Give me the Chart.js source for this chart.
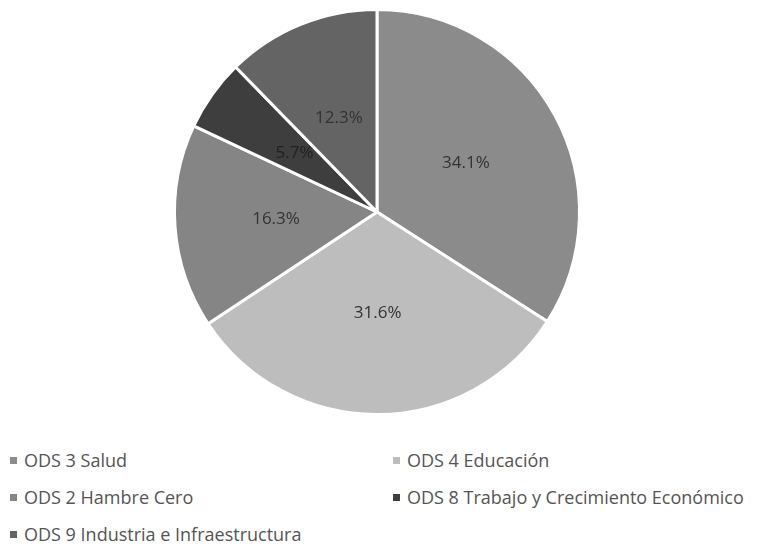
<!DOCTYPE html>
<html>
<head>
<meta charset="utf-8">
<script src="https://cdn.jsdelivr.net/npm/chart.js@4"></script>
<style>
  body { margin: 0; background: #fff; width: 758px; height: 547px; overflow: hidden; }
  #wrap { position: absolute; left: 0; top: 0; width: 758px; height: 424px; }
  #legend { position: absolute; left: 10px; top: 448px; width: 748px; font-family: "Open Sans", sans-serif; font-size: 18px; color: #555; }
  .item { position: absolute; white-space: nowrap; line-height: 24px; }
  .box { display: inline-block; width: 7px; height: 7px; margin-right: 7px; vertical-align: 3px; }
</style>
</head>
<body>
<div id="wrap"><canvas id="pie-chart"></canvas></div>
<div id="legend"></div>
<script>
// Slice data, clockwise from 12 o'clock
const labels = [
  "ODS 3 Salud",
  "ODS 4 Educación",
  "ODS 2 Hambre Cero",
  "ODS 8 Trabajo y Crecimiento Económico",
  "ODS 9 Industria e Infraestructura",
];
const shares = [34.1, 31.6, 16.3, 5.7, 12.3];
const colors = ["#8b8b8b", "#bdbdbd", "#858585", "#3e3e3e", "#646464"];

// Draw percentage labels inside slices
const sliceLabels = {
  id: "sliceLabels",
  afterDatasetsDraw(chart) {
    const ctx = chart.ctx;
    const meta = chart.getDatasetMeta(0);
    ctx.save();
    ctx.font = "17px 'Open Sans', sans-serif";
    ctx.textAlign = "center";
    ctx.textBaseline = "middle";
    meta.data.forEach((arc, i) => {
      const p = arc.getCenterPoint();
      ctx.fillStyle = i === 3 ? "#222222" : "#333333";
      ctx.fillText(shares[i].toFixed(1) + "%", p.x, p.y);
    });
    ctx.restore();
  },
};

const ctx = document.getElementById("pie-chart");
new Chart(ctx, {
  type: "pie",
  data: {
    labels: labels,
    datasets: [
      {
        data: shares,
        backgroundColor: colors,
        borderColor: "#ffffff",
        borderWidth: 3,
      },
    ],
  },
  options: {
    responsive: true,
    maintainAspectRatio: false,
    animation: false,
    layout: { padding: { top: 8, bottom: 8, left: 0, right: 4 } },
    plugins: {
      legend: { display: false },
      tooltip: { enabled: false },
    },
  },
  plugins: [sliceLabels],
});

// Two-column legend, same order as the original
const legendEl = document.getElementById("legend");
labels.forEach((name, n) => {
  const div = document.createElement("div");
  div.className = "item";
  div.style.left = (n % 2 === 0 ? 0 : 383) + "px";
  div.style.top = Math.floor(n / 2) * 37 + "px";
  const box = document.createElement("span");
  box.className = "box";
  box.style.background = colors[n];
  div.appendChild(box);
  div.appendChild(document.createTextNode(name));
  legendEl.appendChild(div);
});
</script>
</body>
</html>
